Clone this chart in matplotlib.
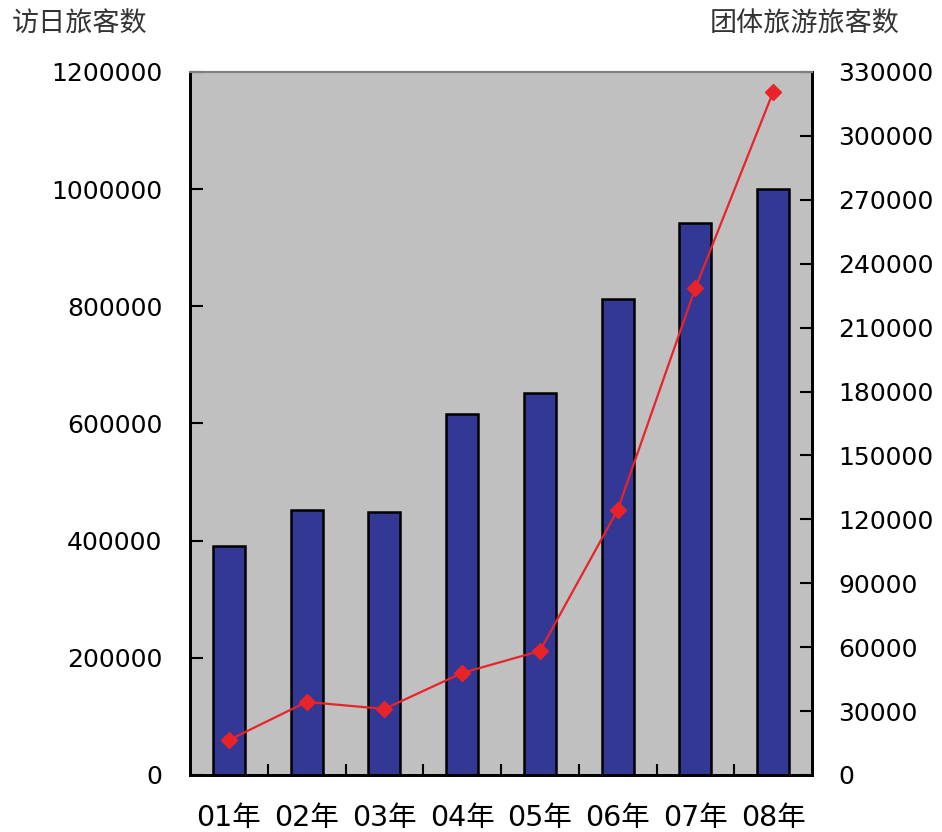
import numpy as np
import matplotlib
matplotlib.use('Agg')
from matplotlib import pyplot as plt
from matplotlib.ticker import FixedLocator

plt.rcParams['font.family'] = ['DejaVu Sans', 'Noto Sans CJK JP']

years = ['01年', '02年', '03年', '04年', '05年', '06年', '07年', '08年']
visitors = [391384, 452420, 448782, 616009, 652820, 811675, 942439, 1000416]  # 访日旅客数
group_tourists = [16400, 34300, 31000, 47900, 58200, 124400, 228600, 320600]  # 团体旅游旅客数

left_ticks = [0, 200000, 400000, 600000, 800000, 1000000, 1200000]
right_ticks = list(range(0, 330001, 30000))

fig = plt.figure(figsize=(9.42, 8.32), dpi=100)
ax = fig.add_axes([190 / 942, 57 / 832, 622 / 942, 703 / 832])
ax.set_facecolor('#c0c0c0')

x = np.arange(len(years))
ax.bar(x, visitors, width=0.41, color='#333894', edgecolor='black', linewidth=1.8, zorder=2)
ax.set_xlim(-0.5, len(years) - 0.5)
ax.set_ylim(0, 1200000)
ax.set_yticks(left_ticks)
ax.set_yticklabels([str(t) for t in left_ticks], fontsize=18)

# category boundaries get the tick marks, centers get the labels
ax.xaxis.set_major_locator(FixedLocator(x[:-1] + 0.5))
ax.xaxis.set_minor_locator(FixedLocator(x))
ax.set_xticklabels([], minor=False)
ax.set_xticklabels(years, minor=True, fontsize=20.5)
ax.tick_params(axis='x', which='major', direction='in', length=8, width=1.5)
ax.tick_params(axis='x', which='minor', length=0, pad=21)
ax.tick_params(axis='y', direction='in', length=9, width=1.5, pad=20)

ax2 = ax.twinx()
ax2.plot(x, group_tourists, color='#e8232a', linewidth=1.6, marker='D', markersize=8.5, zorder=3)
ax2.set_ylim(0, 330000)
ax2.set_yticks(right_ticks)
ax2.set_yticklabels([str(t) for t in right_ticks], fontsize=18)
ax2.tick_params(axis='y', direction='in', length=9, width=1.5, pad=19)

for a in (ax, ax2):
    for side in ('left', 'right', 'bottom'):
        a.spines[side].set_linewidth(2)
        a.spines[side].set_color('black')
    a.spines['top'].set_color('#808080')
    a.spines['top'].set_linewidth(1.5)

title_font = ['Noto Sans CJK SC', 'DejaVu Sans']
fig.text(12 / 942, 1 - 24 / 832, '访日旅客数', fontsize=19.5, color='#333333',
         va='center', ha='left', family=title_font)
fig.text(900 / 942, 1 - 24 / 832, '团体旅游旅客数', fontsize=19.5, color='#333333',
         va='center', ha='right', family=title_font)

fig.savefig('out.png', dpi=100)
